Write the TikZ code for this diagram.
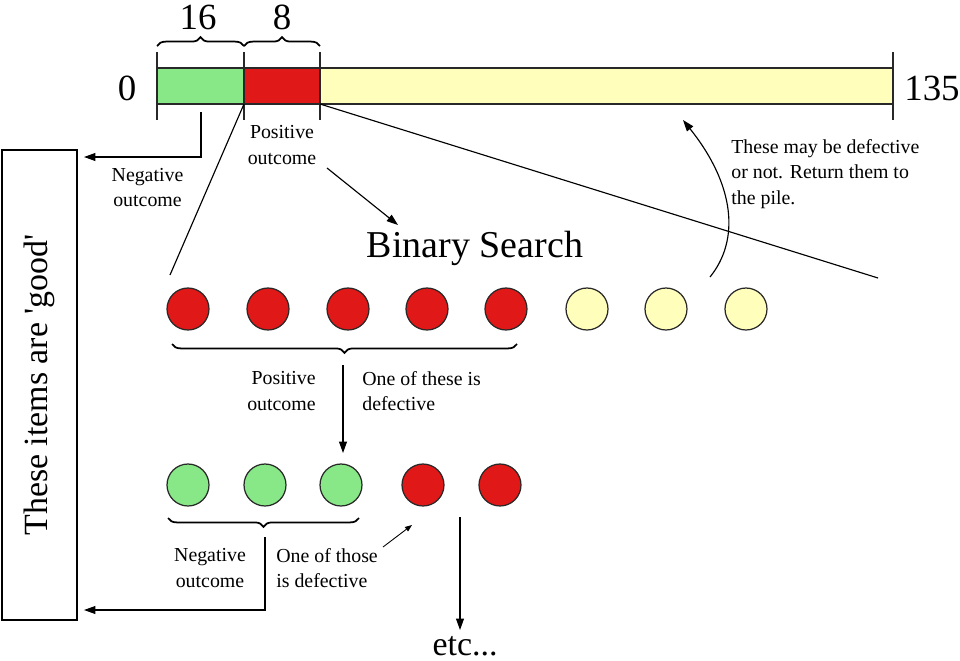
\documentclass[tikz,border=0pt]{standalone}
\usepackage{fontspec}
\setmainfont{Liberation Serif}
\usepackage{xcolor}
\usetikzlibrary{arrows.meta}
\usetikzlibrary{decorations.pathreplacing}
\usetikzlibrary{positioning}
\definecolor{goodgreen}{RGB}{136,232,136}
\definecolor{badred}{RGB}{224,24,24}
\definecolor{pileyellow}{RGB}{255,255,187}
\definecolor{edgegray}{RGB}{40,40,40}

\begin{document}
\begin{tikzpicture}[x=0.02cm,y=-0.02cm,
    ball/.style={circle,draw=edgegray,line width=0.7pt,minimum size=0.84cm,inner sep=0pt},
    bigtxt/.style={font=\fontsize{21}{25}\selectfont,inner sep=0pt},
    smalltxt/.style={font=\fontsize{11.3}{14.6}\selectfont,inner sep=0pt},
    arr/.style={-{Triangle[length=6.5pt,width=4.5pt]},line width=0.65pt},
    curly/.style={decorate,decoration={brace,amplitude=5pt},line width=1pt}]
    \useasboundingbox (0,0) rectangle (960,660);
    % the pile of 135 items
    \draw[edgegray,line width=0.8pt,fill=goodgreen] (157,68) rectangle (244,104);
    \draw[edgegray,line width=0.8pt,fill=badred] (244,68) rectangle (320,104);
    \draw[edgegray,line width=0.8pt,fill=pileyellow] (320,68) rectangle (893,104);
    \foreach \x in {157,244,320,893}
      \draw[edgegray,line width=0.8pt] (\x,52) -- (\x,120);
    \coordinate (cut1) at (244,104);
    \coordinate (cut2) at (320,104);
    \node[bigtxt] (zero) at (127,88) {0};
    \node[bigtxt] (total) at (932,88) {135};
    \draw[curly] (157,46) -- (244,46);
    \draw[curly] (244,46) -- (320,46);
    \node[bigtxt] (n16) at (198,17) {16};
    \node[bigtxt] (n8) at (282,17) {8};
    % good box on the left
    \node[draw,line width=0.8pt,rotate=90,minimum width=9.4cm,minimum height=1.5cm,
      font=\fontsize{19.3}{23}\selectfont] (goodbox) at (39.5,385)
      {These items are \textquotesingle good\textquotesingle};
    % first test
    \coordinate (negtop) at (201,112);
    \coordinate (negend) at (84,157);
    \draw[arr] (negtop) |- (negend);
    \node[smalltxt,align=center] (neg1) at (147.5,187.5) {Negative\\outcome};
    \node[smalltxt,align=center] (pos1) at (282,145) {Positive\\outcome};
    \node[font=\fontsize{21.6}{26}\selectfont,inner sep=0pt] (bsearch) at (475,248) {Binary Search};
    \coordinate (posfrom) at (327,168);
    \coordinate (posto) at (398,225);
    \draw[arr] (posfrom) -- (posto);
    \node[smalltxt,align=left,anchor=west] (maybe) at (731,174)
      {These may be defective\\or not. Return them to\\the pile.};
    % row of 8 items
    \foreach \i/\x in {1/188,2/268,3/348,4/427,5/506}
      \node[ball,fill=badred] (r\i) at (\x,309) {};
    \foreach \i/\x in {1/587,2/666,3/746}
      \node[ball,fill=pileyellow] (y\i) at (\x,309) {};
    \coordinate (zoomL) at (170,275);
    \coordinate (zoomR) at (878,278);
    \draw[line width=0.65pt] (cut1) -- (zoomL);
    \draw[line width=0.65pt] (cut2) -- (zoomR);
    \coordinate (backfrom) at (710,277);
    \coordinate (backto) at (683,120);
    \draw[arr] (backfrom) .. controls (740,240) and (735,185) .. (backto);
    \draw[curly] (517,344) -- (172,344);
    \coordinate (down1a) at (343,365);
    \coordinate (down1b) at (343,453);
    \draw[arr] (down1a) -- (down1b);
    \node[smalltxt,align=right,anchor=east] (pos2) at (316,391) {Positive\\outcome};
    \node[smalltxt,align=left,anchor=west] (oneof) at (362,391) {One of these is\\defective};
    % row of 5 items
    \foreach \i/\x in {1/188,2/265,3/341}
      \node[ball,fill=goodgreen] (g\i) at (\x,485) {};
    \foreach \i/\x in {1/423,2/500}
      \node[ball,fill=badred] (s\i) at (\x,485) {};
    \draw[curly] (359,518) -- (168,518);
    \coordinate (negtop2) at (265,537);
    \coordinate (negend2) at (84,610);
    \draw[arr] (negtop2) |- (negend2);
    \node[smalltxt,align=center] (neg2) at (210,568) {Negative\\outcome};
    \node[smalltxt,align=left,anchor=west] (oneof2) at (276,568) {One of those\\is defective};
    \coordinate (thinfrom) at (383,547);
    \coordinate (thinto) at (412,525);
    \draw[-{Triangle[length=4pt,width=3pt]},line width=0.5pt] (thinfrom) -- (thinto);
    \coordinate (etcfrom) at (460,517);
    \node[font=\fontsize{19.3}{23}\selectfont,inner sep=0pt,anchor=base] (etc) at (465,655) {etc...};
    \draw[arr] (etcfrom) -- (460,630);
\end{tikzpicture}
\end{document}
